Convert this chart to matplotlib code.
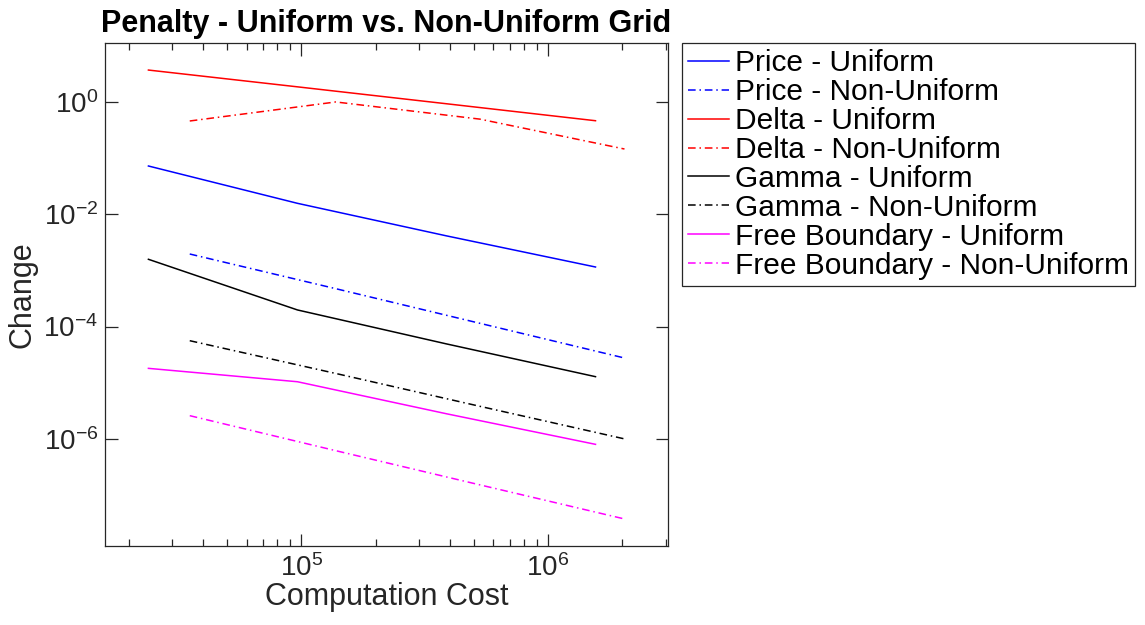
import matplotlib
matplotlib.use('Agg')
from matplotlib import pyplot as plt
from matplotlib import ticker

plt.rcParams['font.family'] = ['Liberation Sans', 'DejaVu Sans']
plt.rcParams['mathtext.fontset'] = 'custom'
plt.rcParams['mathtext.rm'] = 'Liberation Sans'

# custo computacional (uniforme x nao uniforme)
custoUni = [2.4e4, 9.65e4, 3.88e5, 1.56e6]
custoNaoUni = [3.53e4, 1.38e5, 5.3e5, 2.045e6]

# variacoes
precoUni = [0.0718, 0.01556, 4.1e-3, 1.145e-3]
precoNaoUni = [1.95e-3, 4.71e-4, 1.14e-4, 2.75e-5]
deltaUni = [3.66, 1.84, 0.92, 0.459]
deltaNaoUni = [0.454, 0.99, 0.49, 0.144]
gammaUni = [1.57e-3, 1.97e-4, 4.9e-5, 1.28e-5]
gammaNaoUni = [5.59e-5, 1.46e-5, 3.8e-6, 1.0e-6]
fronteiraUni = [1.80e-5, 1.04e-5, 2.8e-6, 8.0e-7]
fronteiraNaoUni = [2.59e-6, 6.17e-7, 1.52e-7, 3.76e-8]

fig = plt.figure(figsize=(11.45, 6.25), dpi=100)
ax = fig.add_axes([105/1145, 79/625, 563/1145, 502.5/625])

tracoPonto = (0, (5, 2.5, 1, 2.5))
lw = 1.1

ax.plot(custoUni, precoUni, color='#0000ff', lw=lw, label='Price - Uniform')
ax.plot(custoNaoUni, precoNaoUni, color='#0000ff', lw=lw, ls=tracoPonto, label='Price - Non-Uniform')
ax.plot(custoUni, deltaUni, color='#ff0000', lw=lw, label='Delta - Uniform')
ax.plot(custoNaoUni, deltaNaoUni, color='#ff0000', lw=lw, ls=tracoPonto, label='Delta - Non-Uniform')
ax.plot(custoUni, gammaUni, color='black', lw=lw, label='Gamma - Uniform')
ax.plot(custoNaoUni, gammaNaoUni, color='black', lw=lw, ls=tracoPonto, label='Gamma - Non-Uniform')
ax.plot(custoUni, fronteiraUni, color='#ff00ff', lw=lw, label='Free Boundary - Uniform')
ax.plot(custoNaoUni, fronteiraNaoUni, color='#ff00ff', lw=lw, ls=tracoPonto, label='Free Boundary - Non-Uniform')

ax.set_xscale('log')
ax.set_yscale('log')
ax.set_xlim(1.6e4, 3.07e6)
ax.set_ylim(10**-7.906, 10**1.036)

ax.set_yticks([1e0, 1e-2, 1e-4, 1e-6])
ax.yaxis.set_minor_locator(ticker.NullLocator())
ax.xaxis.set_major_locator(ticker.LogLocator(base=10, numticks=10))
ax.xaxis.set_minor_locator(ticker.LogLocator(base=10, subs=range(2, 10), numticks=20))
ax.xaxis.set_minor_formatter(ticker.NullFormatter())

for s in ax.spines.values():
    s.set_color('#262626')
    s.set_linewidth(0.9)
ax.tick_params(which='both', direction='in', top=True, right=True, colors='#262626',
               labelsize=20, width=0.9)
ax.tick_params(which='major', length=9)
ax.tick_params(which='minor', length=5)
ax.tick_params(axis='y', which='major', pad=5)
ax.tick_params(axis='x', which='major', pad=6)

ax.set_title('Penalty - Uniform vs. Non-Uniform Grid', fontsize=22, fontweight='bold', pad=8)
ax.set_xlabel('Computation Cost', fontsize=22, color='#262626', labelpad=0)
ax.set_ylabel('Change', fontsize=22, color='#262626', labelpad=4)

leg = ax.legend(loc='upper left', bbox_to_anchor=(681.7/1145, 1 - 43.3/625),
                bbox_transform=fig.transFigure, borderaxespad=0, fontsize=21.5,
                handlelength=1.4, handletextpad=0.2, labelspacing=0.03,
                borderpad=0.2, fancybox=False, framealpha=1)
leg.get_frame().set_edgecolor('#262626')
leg.get_frame().set_linewidth(0.9)

plt.savefig('out.png', dpi=100)
